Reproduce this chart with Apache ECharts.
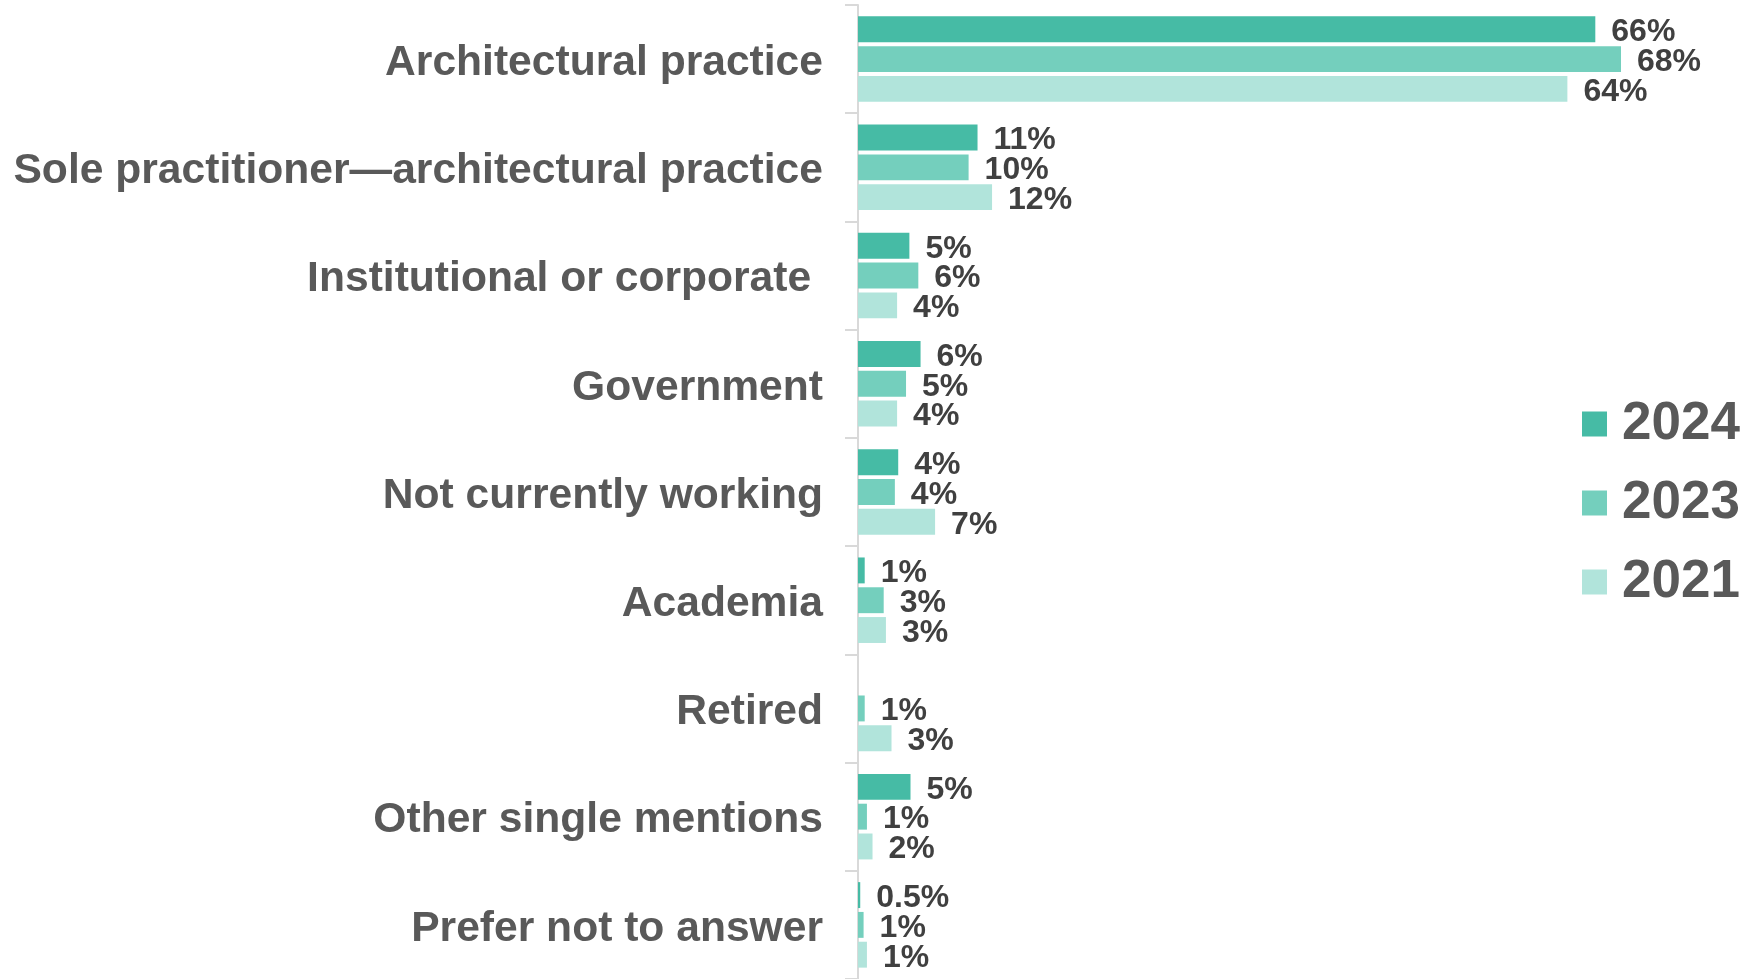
<!DOCTYPE html>
<html>
<head>
<meta charset="utf-8">
<script src="https://cdn.jsdelivr.net/npm/echarts@6/dist/echarts.min.js"></script>
<style>
html,body{margin:0;padding:0;background:#fff;}
#chart{width:1748px;height:979px;}
</style>
</head>
<body>
<div id="chart"></div>
<script>
const categories = [
  "Architectural practice",
  "Sole practitioner\u2014architectural practice",
  "Institutional or corporate ",
  "Government",
  "Not currently working",
  "Academia",
  "Retired",
  "Other single mentions",
  "Prefer not to answer"
];
const seriesNames = ["2024", "2023", "2021"];
const values2024 = [66, 10.7, 4.6, 5.6, 3.6, 0.6, null, 4.7, 0.2];
const values2023 = [68.3, 9.9, 5.4, 4.3, 3.3, 2.3, 0.6, 0.8, 0.5];
const values2021 = [63.5, 12.0, 3.5, 3.5, 6.9, 2.5, 3.0, 1.3, 0.8];
const labels2024 = ["66%", "11%", "5%", "6%", "4%", "1%", "", "5%", "0.5%"];
const labels2023 = ["68%", "10%", "6%", "5%", "4%", "3%", "1%", "1%", "1%"];
const labels2021 = ["64%", "12%", "4%", "4%", "7%", "3%", "3%", "2%", "1%"];

const colors = ["#46BBA5", "#74CFBD", "#B1E4DB"];
const allValues = [values2024, values2023, values2021];
const allLabels = [labels2024, labels2023, labels2021];
const FONT = "'Liberation Sans', Arial, sans-serif";

const chart = echarts.init(document.getElementById('chart'), null, {renderer: 'canvas'});
const series = seriesNames.map((name, i) => ({
  name: name,
  type: 'bar',
  data: allValues[i],
  barCategoryGap: '21%',
  barGap: '15%',
  itemStyle: {color: colors[i]},
  label: {
    show: true,
    position: 'right',
    distance: 16,
    offset: [0, 3],
    fontFamily: FONT,
    fontWeight: 'bold',
    fontSize: 32,
    color: '#404040',
    formatter: (p) => allLabels[i][p.dataIndex]
  },
  animation: false
}));

chart.setOption({
  animation: false,
  color: colors,
  grid: {left: 858, top: 5, width: 782, height: 978, containLabel: false},
  legend: {
    orient: 'vertical',
    left: 1577,
    top: 388,
    icon: 'rect',
    itemWidth: 25,
    itemHeight: 25,
    itemGap: 17,
    data: seriesNames,
    textStyle: {
      fontFamily: FONT,
      fontWeight: 'bold',
      fontSize: 53,
      color: '#595959',
      lineHeight: 62,
      padding: [0, 0, 0, 10]
    }
  },
  xAxis: {
    type: 'value',
    min: 0,
    max: 70,
    show: false
  },
  yAxis: {
    type: 'category',
    inverse: true,
    data: categories,
    offset: 2,
    axisLine: {show: true, lineStyle: {color: '#D9D9D9', width: 2}},
    axisTick: {show: true, length: 13, lineStyle: {color: '#D9D9D9', width: 2}},
    axisLabel: {
      margin: 33,
      formatter: '{a|{value}}',
      rich: {
        a: {
          fontFamily: FONT,
          fontWeight: 'bold',
          fontSize: 42.6,
          color: '#595959',
          padding: [8, 0, 0, 0]
        }
      }
    },
    splitLine: {show: false}
  },
  series: series
});
</script>
</body>
</html>
